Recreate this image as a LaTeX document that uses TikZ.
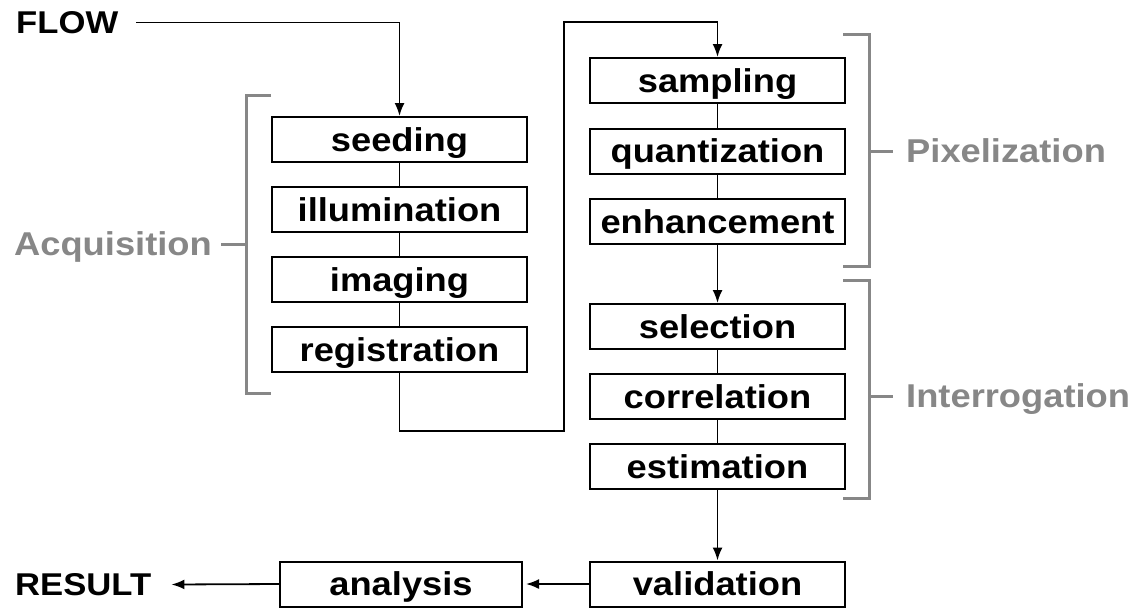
\documentclass[tikz,border=0pt]{standalone}
\usepackage{fontspec}
\setmainfont{Liberation Sans}[FakeStretch=1.1]
\usetikzlibrary{arrows.meta}
\definecolor{labgray}{RGB}{135,135,135}
\tikzset{
  boxfont/.style={font=\bfseries\fontsize{33}{38}\selectfont},
  stepbox/.style={boxfont, draw=black, line width=2pt, minimum width=255pt,
    minimum height=45pt, inner sep=0pt, text height=23.6pt, text depth=0pt},
  term/.style={font=\bfseries\fontsize{31.5}{36}\selectfont, inner sep=0pt,
    text height=22.5pt, text depth=0pt},
  grouplab/.style={boxfont, text=labgray, inner sep=0pt, text height=23.6pt, text depth=0pt},
  conn/.style={line width=1.8pt},
  arr/.style={conn, -{Latex[length=13pt,width=10pt]}},
  brk/.style={draw=labgray, line width=3pt},
}
\begin{document}
\begin{tikzpicture}[x=1pt,y=-1pt]
\useasboundingbox (0,0) rectangle (1139,608);
% terminals
\node[term, anchor=west] (flow) at (16,22.5) {FLOW};
\node[term, anchor=west] (res) at (15,584.5) {RESULT};
% acquisition column
\node[stepbox] (seed)  at (399.5,139.5) {seeding};
\node[stepbox] (illum) at (399.5,209.5) {illumination};
\node[stepbox] (imag)  at (399.5,279.5) {imaging};
\node[stepbox] (reg)   at (399.5,349.5) {registration};
% right column
\node[stepbox] (samp)  at (717.5,80.5)  {sampling};
\node[stepbox] (quant) at (717.5,151)   {quantization};
\node[stepbox] (enh)   at (717.5,221.5) {enhancement};
\node[stepbox] (sel)   at (717.5,326.5) {selection};
\node[stepbox] (corr)  at (717.5,396.5) {correlation};
\node[stepbox] (est)   at (717.5,466.5) {estimation};
\node[stepbox] (val)   at (717.5,584)   {validation};
\node[stepbox, minimum width=242pt] (ana) at (401,584) {analysis};
% group labels
\node[grouplab, anchor=east] (acq) at (212,244) {Acquisition};
\node[grouplab, anchor=west] (pix) at (906,151) {Pixelization};
\node[grouplab, anchor=west] (intg) at (906,396) {Interrogation};
% route coordinates
\coordinate (turn) at (564,431);
\coordinate (top) at (564,22);
% connectors
\draw[arr] ([xshift=18pt]flow.east) -| (seed.north);
\draw[conn] (seed.south) -- (illum.north);
\draw[conn] (illum.south) -- (imag.north);
\draw[conn] (imag.south) -- (reg.north);
\draw[arr] (reg.south) |- (turn) -- (top) -| (samp.north);
\draw[conn] (samp.south) -- (quant.north);
\draw[conn] (quant.south) -- (enh.north);
\draw[arr] (enh.south) -- (sel.north);
\draw[conn] (sel.south) -- (corr.north);
\draw[conn] (corr.south) -- (est.north);
\draw[arr] (est.south) -- (val.north);
\draw[arr, shorten >=3pt] (val.west) -- (ana.east);
\draw[arr] (ana.west) -- ([xshift=20pt]res.east);
% brackets
\draw[brk] (271,95) -| (246,393) -- (271,393);
\draw[brk] (246,244) -- ([xshift=9pt]acq.east);
\draw[brk] (843,34) -| (869,266) -- (843,266);
\draw[brk] (869,151) -- ([xshift=-13pt]pix.west);
\draw[brk] (843,280) -| (869,498) -- (843,498);
\draw[brk] (869,396) -- ([xshift=-13pt]intg.west);
\end{tikzpicture}
\end{document}
